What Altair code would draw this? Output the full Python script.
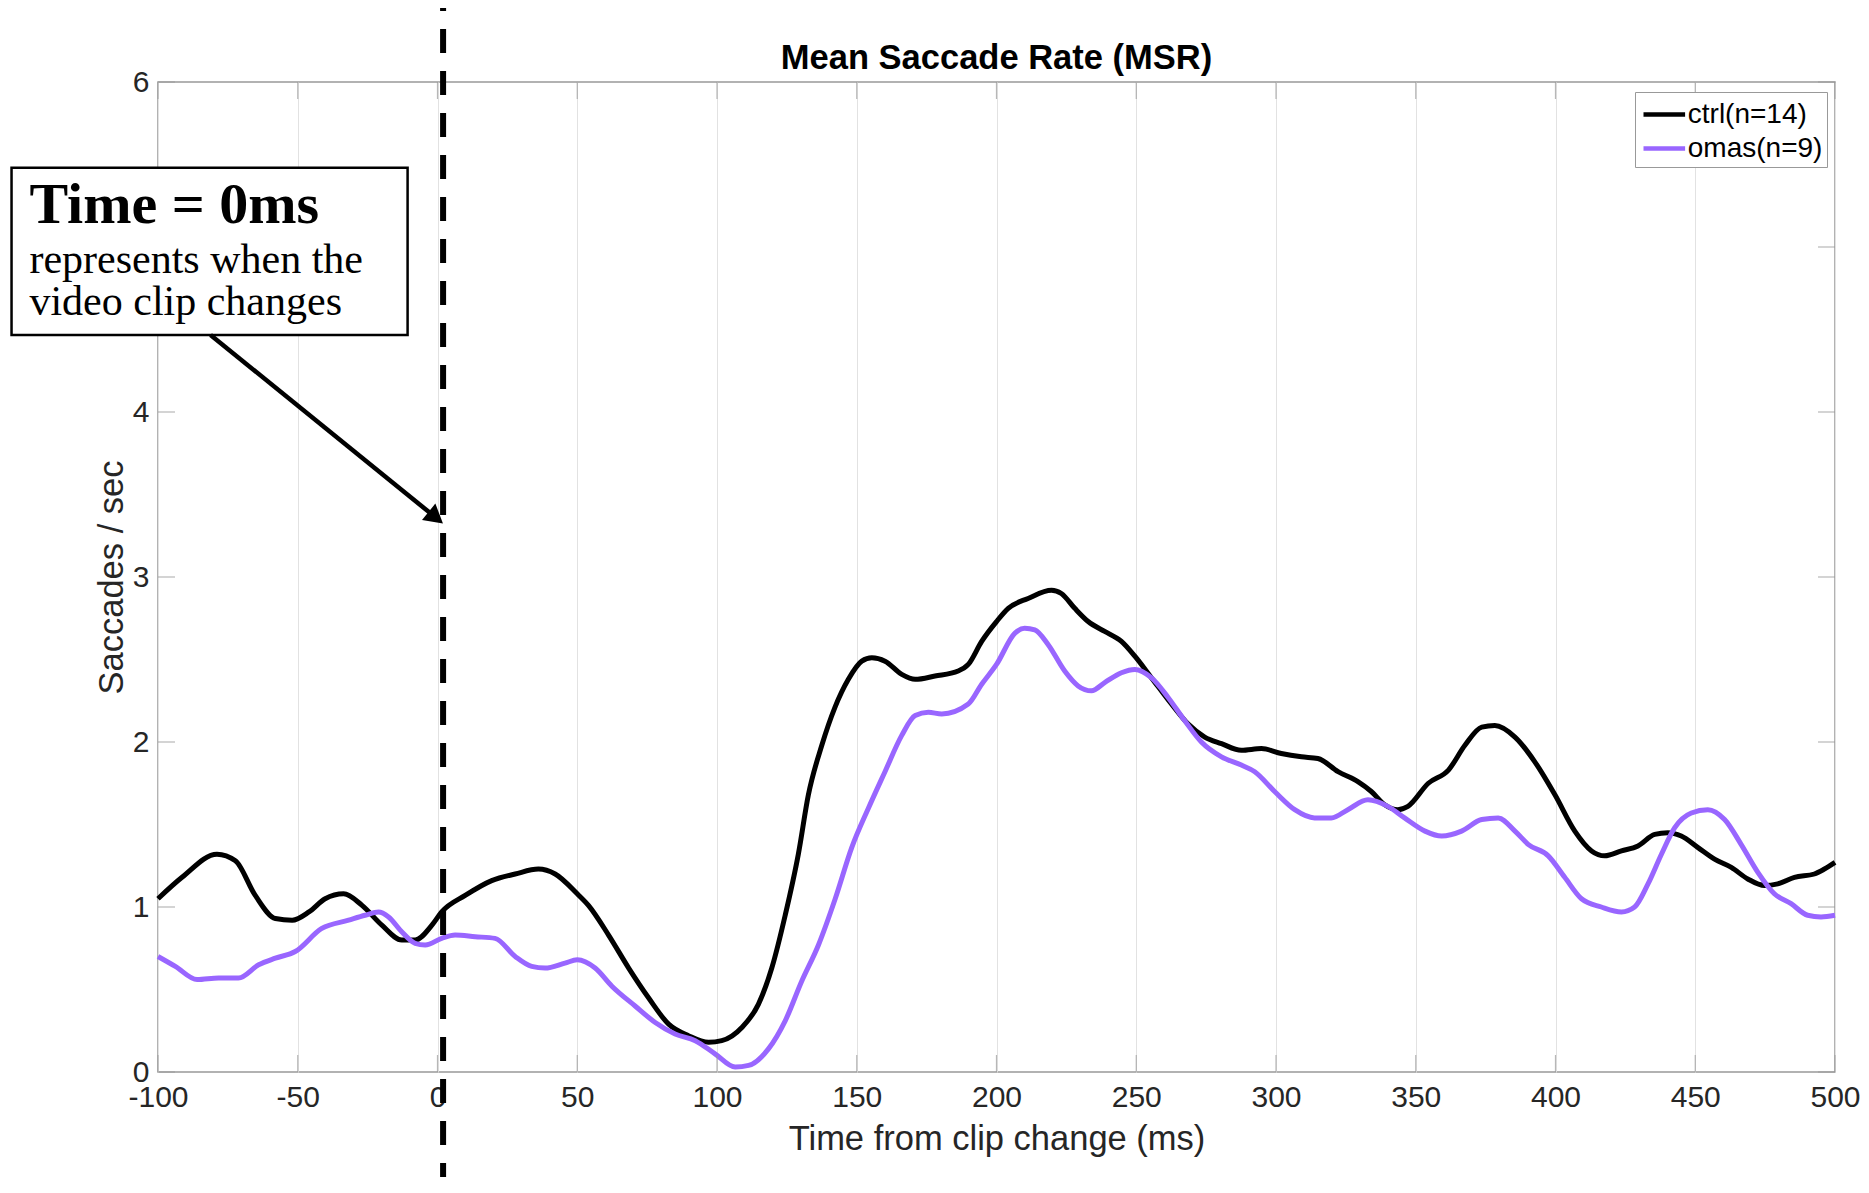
import altair as alt
import pandas as pd

# ---------------- data ----------------
series_names = ["ctrl(n=14)", "omas(n=9)"]
series_colors = ["#000000", "#9966FF"]

ctrl_x = [-100, -91.4, -78.9, -72.3, -65.2, -58, -52, -46, -40.2, -33.6, -27, -19.9, -12.8, -8, -2, 1.5,
          9.9, 19.4, 27.8, 36.1, 42.1, 50, 54, 61.2, 68.4, 75.5, 82.7, 89.8, 97, 101.7, 108.9, 114.8,
          119.6, 124.4, 129.1, 132.7, 137.5, 142.2, 147, 151.8, 155.4, 160.1, 166.1, 170.9, 178, 186.3,
          189.9, 194.7, 200, 204.2, 211.3, 219.7, 223.2, 228, 232.8, 238.7, 244.7, 249.5, 255.4, 262.6,
          268.5, 274.5, 280.5, 287.6, 294.8, 301.9, 309.1, 315, 322.2, 329.3, 334.1, 338.9, 343.6, 347.2,
          354.5, 361.7, 367.6, 373.6, 378.3, 385.5, 392.6, 399.8, 406.9, 412.9, 417.6, 423.6, 429.5,
          435.5, 440.2, 445, 451, 456.9, 462.9, 468.8, 474.8, 479.5, 485.5, 492.6, 496.2, 500]
ctrl_y = [1.05, 1.18, 1.32, 1.28, 1.07, 0.93, 0.92, 0.97, 1.05, 1.08, 1.01, 0.89, 0.80, 0.80, 0.89, 0.97,
          1.07, 1.16, 1.20, 1.23, 1.20, 1.08, 1.01, 0.83, 0.63, 0.45, 0.29, 0.22, 0.18, 0.19, 0.27, 0.41,
          0.63, 0.95, 1.32, 1.68, 1.98, 2.21, 2.38, 2.49, 2.51, 2.49, 2.41, 2.38, 2.40, 2.43,
          2.47, 2.61, 2.73, 2.81, 2.87, 2.92, 2.90, 2.81, 2.73, 2.67, 2.61, 2.52, 2.39, 2.23,
          2.11, 2.03, 1.99, 1.95, 1.96, 1.93, 1.91, 1.90, 1.82, 1.76, 1.70, 1.62, 1.59, 1.61,
          1.75, 1.83, 1.98, 2.09, 2.10, 2.03, 1.88, 1.68, 1.46, 1.34, 1.31, 1.34, 1.37,
          1.44, 1.45, 1.43, 1.36, 1.29, 1.24, 1.17, 1.13, 1.14, 1.18, 1.20, 1.23, 1.27]

omas_x = [-100, -93.8, -86, -78.3, -71.2, -64, -58, -50.9, -41.4, -31.8, -25.9, -21.1, -17.5, -12.8, -8,
          -4.4, 1.5, 6.3, 13.5, 20.6, 27.8, 33.7, 38.5, 45.6, 50, 56.4, 62.4, 70.7, 77.9, 85, 92.2, 99.3,
          106.5, 111.3, 118.4, 124.4, 130.3, 136.3, 142.3, 148.2, 154.2, 160.1, 166.1, 170.9, 175.6,
          180.4, 189.9, 194.7, 200, 206.6, 210.1, 213.7, 218.5, 224.4, 229.2, 234, 238.7, 244.7, 249.5,
          255.4, 261.4, 267.3, 273.3, 280.5, 287.6, 292.4, 299.5, 306.7, 313.8, 319.8, 325.7, 332.9,
          340, 346, 353.3, 359.3, 366.4, 373.6, 379.5, 385.5, 390.2, 397.4, 403.3, 409.3, 416.4, 423.6,
          428.3, 433.1, 437.9, 442.6, 448.6, 454.5, 460.5, 466.4, 472.4, 478.3, 484.3, 490.2, 495, 500]
omas_y = [0.70, 0.64, 0.56, 0.57, 0.57, 0.65, 0.69, 0.73, 0.87, 0.92, 0.95, 0.97, 0.94, 0.85, 0.78,
          0.77, 0.81, 0.83, 0.82, 0.81, 0.70, 0.64, 0.63, 0.66, 0.68, 0.63, 0.52, 0.40, 0.30, 0.23, 0.19, 0.11,
          0.03, 0.04, 0.14, 0.31, 0.55, 0.77, 1.05, 1.36, 1.60, 1.82, 2.04, 2.16, 2.18,
          2.17, 2.23, 2.35, 2.47, 2.66, 2.69, 2.68, 2.59, 2.43, 2.34, 2.31, 2.36, 2.42, 2.44,
          2.39, 2.27, 2.13, 2.00, 1.91, 1.86, 1.82, 1.70, 1.59, 1.54, 1.54, 1.59, 1.65,
          1.61, 1.54, 1.46, 1.43, 1.46, 1.53, 1.54, 1.46, 1.38, 1.31, 1.18, 1.05, 1.00, 0.97,
          1.00, 1.14, 1.32, 1.48, 1.57, 1.59, 1.53, 1.38, 1.21, 1.08, 1.02, 0.95, 0.94, 0.95]

x_ticks = [-100, -50, 0, 50, 100, 150, 200, 250, 300, 350, 400, 450, 500]
y_ticks = [0, 1, 2, 3, 4, 5, 6]
y_hidden_label = 5            # covered by the annotation box in the reference

title_text = ["Mean Saccade Rate (MSR)"]
x_title = "Time from clip change (ms)"
y_title = "Saccades / sec"

clip_change_ms = [2]          # dashed marker (drawn just right of 0)
note_bold = ["Time = 0ms"]
note_lines = ["represents when the", "video clip changes"]
note_x = [-146]
note_bold_y = [5.146]
note_lines_y = [4.845, 4.585]
box_x = [-152.4, -10.7]
box_y = [4.467, 5.48]
arrow_x = [-81.2, -0.6]
arrow_y = [4.467, 3.36]

# ---------------- build ----------------
W, H = 1677, 990
FRAME = "#999999"
SANS = "Liberation Sans"
SERIF = "Liberation Serif"

lines_df = pd.DataFrame(
    {"t": ctrl_x + omas_x,
     "rate": ctrl_y + omas_y,
     "series": [series_names[0]] * len(ctrl_x) + [series_names[1]] * len(omas_x)}
)

xs = alt.Scale(domain=[-100, 500], nice=False, zero=False)
ys = alt.Scale(domain=[0, 6], nice=False, zero=False)

x_axis = alt.Axis(values=x_ticks, title=x_title, grid=True, gridColor="#e2e2e2", gridWidth=1,
                  ticks=False, domain=False, labelFontSize=30, labelFont=SANS, labelColor="#262626",
                  labelPadding=10, labelFlush=False, labelOverlap=False,
                  labelExpr="'' + datum.value",
                  titleFontSize=34.5, titleFont=SANS, titleFontWeight="normal", titleColor="#262626",
                  titlePadding=10)
y_axis = alt.Axis(values=y_ticks, title=y_title, grid=False, ticks=False, domain=False,
                  labelFontSize=30, labelFont=SANS, labelColor="#262626", labelPadding=9,
                  labelFlush=False, labelOverlap=False,
                  labelExpr=f"datum.value == {y_hidden_label} ? '' : datum.label",
                  titleFontSize=34.5, titleFont=SANS, titleFontWeight="normal", titleColor="#262626",
                  titlePadding=3)


def X(field):
    return alt.X(field, scale=xs, axis=x_axis)


def Y(field):
    return alt.Y(field, scale=ys, axis=y_axis)


curves = alt.Chart(lines_df).mark_line(strokeWidth=5, interpolate="monotone").encode(
    x=X("t:Q"),
    y=Y("rate:Q"),
    color=alt.Color("series:N",
                    scale=alt.Scale(domain=series_names, range=series_colors),
                    legend=alt.Legend(orient="none", legendX=1477, legendY=10, title=None,
                                      fillColor="white", strokeColor=FRAME, padding=4,
                                      symbolType="M-1.3,0H1.3", symbolStrokeWidth=4.5,
                                      symbolSize=1024, symbolOffset=6.8,
                                      labelFontSize=28, labelFont=SANS, labelColor="black",
                                      rowPadding=1, labelOffset=5)),
)

xt_df = pd.DataFrame({"t": x_ticks})
yt_df = pd.DataFrame({"rate": y_ticks})
tick_style = dict(color=FRAME, thickness=1.2, size=17)
ticks_bottom = alt.Chart(xt_df).mark_tick(**tick_style).encode(x=X("t:Q"), y=alt.value(H - 8.5))
ticks_top = alt.Chart(xt_df).mark_tick(**tick_style).encode(x=X("t:Q"), y=alt.value(8.5))
ticks_left = alt.Chart(yt_df).mark_tick(**tick_style).encode(y=Y("rate:Q"), x=alt.value(8.5))
ticks_right = alt.Chart(yt_df).mark_tick(**tick_style).encode(y=Y("rate:Q"), x=alt.value(W - 8.5))

marker_df = pd.DataFrame({"t": clip_change_ms})
marker = alt.Chart(marker_df).mark_rule(color="black", strokeWidth=6, strokeDash=[24, 18],
                                        clip=False).encode(
    x=X("t:Q"), y=alt.value(-95), y2=alt.value(H + 140))

box_df = pd.DataFrame({"t": [box_x[0]], "t2": [box_x[1]], "rate": [box_y[0]], "rate2": [box_y[1]]})
box = alt.Chart(box_df).mark_rect(fill="white", stroke="black", strokeWidth=2.5, clip=False).encode(
    x=X("t:Q"), x2="t2:Q", y=Y("rate:Q"), y2="rate2:Q")

bold_df = pd.DataFrame({"t": note_x, "rate": note_bold_y, "txt": note_bold})
note_b = alt.Chart(bold_df).mark_text(font=SERIF, fontSize=58, fontWeight="bold", align="left",
                                      baseline="alphabetic", color="black", clip=False).encode(
    x=X("t:Q"), y=Y("rate:Q"), text="txt:N")

lines_txt_df = pd.DataFrame({"t": note_x * len(note_lines), "rate": note_lines_y, "txt": note_lines})
note_l = alt.Chart(lines_txt_df).mark_text(font=SERIF, fontSize=42, align="left",
                                           baseline="alphabetic", color="black", clip=False).encode(
    x=X("t:Q"), y=Y("rate:Q"), text="txt:N")

arrow_df = pd.DataFrame({"t": arrow_x, "rate": arrow_y})
arrow_line = alt.Chart(arrow_df).mark_line(color="black", strokeWidth=4.5, clip=False).encode(
    x=X("t:Q"), y=Y("rate:Q"))
head_df = pd.DataFrame({"t": [arrow_x[1]], "rate": [arrow_y[1]]})
arrow_head = alt.Chart(head_df).mark_point(shape="triangle-right", angle=39, size=450, filled=True,
                                           color="black", opacity=1, clip=False).encode(
    x=X("t:Q"), y=Y("rate:Q"))

title_df = pd.DataFrame({"txt": title_text})
title_mark = alt.Chart(title_df).mark_text(font=SANS, fontSize=34.5, fontWeight="bold", color="black",
                                           align="center", baseline="middle", clip=False).encode(
    x=alt.value(W / 2), y=alt.value(-23), text="txt:N")

chart = alt.layer(
    curves, ticks_bottom, ticks_top, ticks_left, ticks_right,
    box, note_b, note_l, arrow_line, arrow_head, marker, title_mark,
).properties(
    width=W, height=H,
    autosize=alt.AutoSizeParams(type="none"),
    padding={"left": 150, "top": 74, "right": 26, "bottom": 105},
    background="white",
).configure_view(stroke=FRAME, strokeWidth=1.5)

chart.save("out.html", embed_options={"renderer": "svg", "actions": False})
